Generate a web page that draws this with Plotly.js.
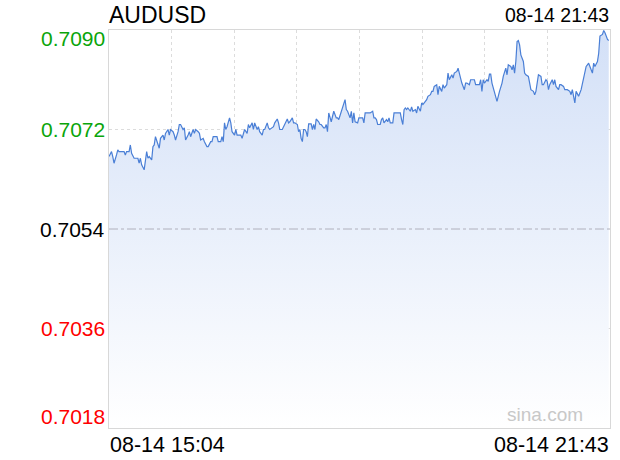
<!DOCTYPE html>
<html>
<head>
<meta charset="utf-8">
<script src="https://cdn.plot.ly/plotly-3.0.1.min.js"></script>
<style>html,body{margin:0;padding:0;background:#fff;}#chart{width:620px;height:460px;}</style>
</head>
<body>
<div id="chart"></div>
<script>
// ---- data ----
const symbol = "AUDUSD";
const startLabel = "08-14 15:04";
const endLabel = "08-14 21:43";
const sessionMinutes = 399; // 15:04 -> 21:43
// minutes after 15:04
const minutes = [
0,2,3,4,6,7,8,10,12,13,14,16,17,18,20,21,23,24,25,26,28,30,31,32,34,35,36,37,39,40,41,43,44,45,47,48,49,51,52,53,55,56,57,59,60,61,63,64,65,67,68,69,71,72,73,75,76,
78,79,81,82,83,85,86,87,89,90,91,92,93,94,96,97,98,100,101,102,103,105,106,107,108,110,111,112,114,115,116,118,119,120,122,123,124,126,127,128,130,131,132,134,135,136,138,139,140,142,143,144,146,147,148,150,151,152,153,154,155,
156,157,158,159,161,162,163,164,165,167,168,169,171,172,173,174,175,177,178,179,181,182,183,185,186,187,188,189,190,192,193,194,195,196,198,199,200,202,203,204,206,207,208,210,211,212,213,214,216,217,218,219,221,222,223,224,226,227,228,229,230,232,233,234,235,
236,237,238,240,241,242,244,245,246,248,249,250,252,253,254,256,257,258,259,261,262,263,265,266,267,269,270,271,273,274,275,277,278,279,280,281,283,284,285,287,288,289,291,292,293,295,296,297,298,299,301,302,303,304,305,307,308,309,311,312,313,314,
315,316,317,318,320,321,322,323,324,325,326,327,328,330,331,332,334,335,336,338,339,340,341,342,344,345,346,348,349,350,351,353,354,355,356,358,359,360,362,363,364,365,367,368,369,371,372,373,374,376,377,378,380,381,382,383,385,386,387,389,390,391,393,394,395,397,398
];
const prices = [
0.70671,0.70680,0.70671,0.70659,0.70674,0.70683,0.70680,0.70680,0.70680,0.70674,0.70680,0.70680,0.70692,0.70677,0.70668,0.70668,0.70668,0.70659,0.70668,0.70656,0.70647,0.70680,0.70668,0.70671,0.70665,0.70689,0.70692,0.70707,0.70695,0.70686,0.70704,0.70710,0.70701,0.70713,0.70720,0.70710,0.70720,0.70716,0.70710,0.70701,0.70716,0.70729,0.70729,0.70720,0.70723,0.70701,0.70710,0.70716,0.70707,0.70720,0.70713,0.70720,0.70716,0.70713,0.70701,0.70704,0.70698,
0.70689,0.70689,0.70698,0.70698,0.70707,0.70707,0.70707,0.70698,0.70698,0.70707,0.70698,0.70732,0.70720,0.70725,0.70741,0.70732,0.70716,0.70710,0.70720,0.70710,0.70710,0.70710,0.70704,0.70713,0.70720,0.70713,0.70729,0.70723,0.70732,0.70720,0.70732,0.70720,0.70725,0.70716,0.70710,0.70720,0.70720,0.70732,0.70723,0.70720,0.70723,0.70725,0.70732,0.70739,0.70732,0.70720,0.70720,0.70725,0.70732,0.70739,0.70732,0.70734,0.70741,0.70732,0.70732,0.70729,0.70716,0.70720,0.70704,0.70698,0.70720,
0.70720,0.70716,0.70707,0.70730,0.70730,0.70720,0.70729,0.70720,0.70739,0.70734,0.70729,0.70729,0.70723,0.70723,0.70729,0.70716,0.70750,0.70734,0.70744,0.70753,0.70741,0.70741,0.70738,0.70753,0.70759,0.70765,0.70774,0.70756,0.70753,0.70741,0.70753,0.70732,0.70750,0.70734,0.70732,0.70741,0.70741,0.70741,0.70732,0.70750,0.70750,0.70750,0.70750,0.70753,0.70741,0.70741,0.70738,0.70729,0.70729,0.70738,0.70741,0.70732,0.70738,0.70734,0.70741,0.70732,0.70732,0.70750,0.70750,0.70750,0.70750,0.70750,0.70738,0.70729,0.70756,
0.70759,0.70756,0.70759,0.70753,0.70761,0.70753,0.70756,0.70750,0.70762,0.70753,0.70768,0.70765,0.70771,0.70774,0.70780,0.70783,0.70789,0.70789,0.70798,0.70801,0.70783,0.70798,0.70789,0.70801,0.70795,0.70801,0.70822,0.70810,0.70819,0.70813,0.70822,0.70825,0.70831,0.70822,0.70813,0.70804,0.70792,0.70804,0.70804,0.70801,0.70810,0.70810,0.70810,0.70801,0.70801,0.70801,0.70810,0.70789,0.70810,0.70804,0.70810,0.70807,0.70820,0.70820,0.70804,0.70789,0.70783,0.70771,0.70789,0.70795,0.70804,0.70816,
0.70825,0.70831,0.70819,0.70837,0.70834,0.70828,0.70837,0.70822,0.70843,0.70879,0.70881,0.70873,0.70855,0.70843,0.70822,0.70819,0.70816,0.70801,0.70792,0.70789,0.70783,0.70789,0.70801,0.70819,0.70816,0.70801,0.70801,0.70810,0.70807,0.70792,0.70801,0.70810,0.70801,0.70810,0.70798,0.70792,0.70801,0.70801,0.70798,0.70792,0.70792,0.70792,0.70789,0.70783,0.70792,0.70768,0.70789,0.70783,0.70780,0.70792,0.70804,0.70813,0.70834,0.70837,0.70840,0.70834,0.70822,0.70840,0.70834,0.70843,0.70858,0.70889,0.70892,0.70899,0.70895,0.70883,0.70881
];
const yTicks = [0.7090, 0.7072, 0.7054, 0.7036, 0.7018];
const yTickLabels = ["0.7090", "0.7072", "0.7054", "0.7036", "0.7018"];
const prevClose = 0.7054;

// ---- styling ----
const FONT = "'Liberation Sans', Arial, Helvetica, sans-serif";
const labelColors = ["#0aa50a", "#0aa50a", "#000000", "#ff0000", "#ff0000"];
const labelShift = [-8, 0, 0, 0, 12];

const vgrid = [];
for (let k = 1; k < 8; k++) vgrid.push(sessionMinutes * k / 8);

const trace = {
  x: minutes, y: prices, type: "scatter", mode: "lines",
  line: {color: "#4a7fd6", width: 1.2},
  fill: "tozeroy",
  fillgradient: {type: "vertical", start: yTicks[4], stop: yTicks[0],
    colorscale: [[0, "#ffffff"], [1, "#d3e0f7"]]},
  hoverinfo: "skip"
};

const annotations = [];
yTicks.forEach((v, i) => {
  annotations.push({xref: "paper", yref: "y", x: 0, y: v, xanchor: "right", yanchor: "middle",
    xshift: -2, yshift: labelShift[i], showarrow: false, text: yTickLabels[i],
    font: {family: FONT, size: 21, color: labelColors[i]}});
});
annotations.push({xref: "paper", yref: "paper", x: 0, y: 1, xanchor: "left", yanchor: "middle",
  xshift: -2, yshift: 15, showarrow: false, text: symbol, font: {family: FONT, size: 23, color: "#000"}});
annotations.push({xref: "paper", yref: "paper", x: 1, y: 1, xanchor: "right", yanchor: "middle",
  xshift: 1, yshift: 15, showarrow: false, text: endLabel, font: {family: FONT, size: 19.5, color: "#000"}});
annotations.push({xref: "paper", yref: "paper", x: 0, y: 0, xanchor: "left", yanchor: "middle",
  xshift: -1, yshift: -17, showarrow: false, text: startLabel, font: {family: FONT, size: 21.5, color: "#000"}});
annotations.push({xref: "paper", yref: "paper", x: 1, y: 0, xanchor: "right", yanchor: "middle",
  xshift: 1, yshift: -17, showarrow: false, text: endLabel, font: {family: FONT, size: 21.5, color: "#000"}});
annotations.push({xref: "paper", yref: "paper", x: 0.87, y: 0.035, xanchor: "center", yanchor: "middle",
  showarrow: false, text: "sina.com", font: {family: FONT, size: 19, color: "#c8c8c8"}});

const layout = {
  width: 620, height: 460,
  margin: {l: 109, r: 10, t: 30, b: 32, pad: 0},
  paper_bgcolor: "#ffffff", plot_bgcolor: "#ffffff",
  showlegend: false,
  xaxis: {range: [0, sessionMinutes], tickvals: vgrid, showticklabels: false, ticks: "",
    showgrid: true, gridcolor: "#dcdcdc", griddash: "dot", gridwidth: 1,
    showline: true, linecolor: "#d8d8d8", linewidth: 1, mirror: true, zeroline: false, fixedrange: true},
  yaxis: {range: [yTicks[4], yTicks[0]], tickvals: [yTicks[1], yTicks[3]], showticklabels: false, ticks: "",
    showgrid: true, gridcolor: "#dcdcdc", griddash: "dot", gridwidth: 1,
    showline: true, linecolor: "#d8d8d8", linewidth: 1, mirror: true, zeroline: false, fixedrange: true},
  shapes: [{type: "line", xref: "paper", yref: "y", x0: 0, x1: 1, y0: prevClose, y1: prevClose,
    line: {color: "#b0b0bc", width: 1, dash: "dashdot"}, layer: "above"}],
  annotations: annotations
};

Plotly.newPlot("chart", [trace], layout, {displayModeBar: false, staticPlot: true});
</script>
</body>
</html>
